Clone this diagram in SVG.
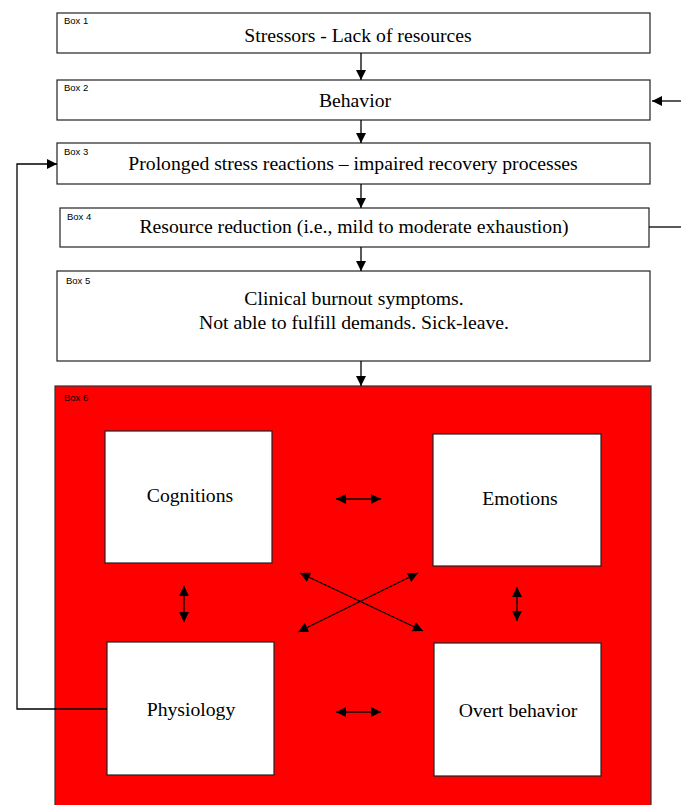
<svg xmlns="http://www.w3.org/2000/svg" width="681" height="805" viewBox="0 0 681 805">
<defs>
<marker id="ah" viewBox="0 0 10 10" refX="10" refY="5" markerWidth="12" markerHeight="10" markerUnits="userSpaceOnUse" orient="auto-start-reverse">
<path d="M0,0 L10,5 L0,10 Z" fill="#000"/>
</marker>
<style>
.box{fill:#fff;stroke:#222;stroke-width:1.2}
.red{fill:#ff0000;stroke:#333;stroke-width:1.2}
.t{font-family:"Liberation Serif","Times New Roman",serif;font-size:19.7px;fill:#000;text-anchor:middle}
.lb{font-family:"Liberation Sans",Arial,sans-serif;font-size:9.5px;fill:#000}
.c{fill:none;stroke:#000;stroke-width:1.3}
</style>
</defs>
<g id="box1"><rect class="box" x="57" y="13" width="593" height="40"/><text class="lb" x="64" y="24">Box 1</text><text class="t" x="358" y="42">Stressors - Lack of resources</text></g>
<g id="box2"><rect class="box" x="57" y="80" width="593" height="40"/><text class="lb" x="64" y="91">Box 2</text><text class="t" x="355" y="107">Behavior</text></g>
<g id="box3"><rect class="box" x="57" y="143" width="593" height="41"/><text class="lb" x="64" y="155">Box 3</text><text class="t" x="353" y="170">Prolonged stress reactions – impaired recovery processes</text></g>
<g id="box4"><rect class="box" x="60" y="208" width="589" height="39"/><text class="lb" x="67" y="220">Box 4</text><text class="t" x="354" y="233">Resource reduction (i.e., mild to moderate exhaustion)</text></g>
<g id="box5"><rect class="box" x="57" y="271" width="593" height="90"/><text class="lb" x="66" y="284">Box 5</text><text class="t" x="354" y="305">Clinical burnout symptoms.</text><text class="t" x="354" y="329">Not able to fulfill demands. Sick-leave.</text></g>
<g id="box6"><rect class="red" x="55" y="386" width="596" height="425"/><text class="lb" x="64" y="401">Box 6</text></g>
<g id="cognitions"><rect class="box" x="105" y="431" width="167" height="132"/><text class="t" x="190" y="502">Cognitions</text></g>
<g id="emotions"><rect class="box" x="433" y="434" width="168" height="132"/><text class="t" x="520" y="505">Emotions</text></g>
<g id="physiology"><rect class="box" x="107" y="642" width="167" height="133"/><text class="t" x="191" y="716">Physiology</text></g>
<g id="overt"><rect class="box" x="434" y="643" width="167" height="133"/><text class="t" x="518" y="717">Overt behavior</text></g>
<g id="connectors">
<line class="c" x1="361" y1="53" x2="361" y2="80" marker-end="url(#ah)"/>
<line class="c" x1="361" y1="120" x2="361" y2="143" marker-end="url(#ah)"/>
<line class="c" x1="361" y1="184" x2="361" y2="208" marker-end="url(#ah)"/>
<line class="c" x1="361" y1="247" x2="361" y2="271" marker-end="url(#ah)"/>
<line class="c" x1="361" y1="361" x2="361" y2="386" marker-end="url(#ah)"/>
<line class="c" x1="681" y1="101" x2="652" y2="101" marker-end="url(#ah)"/>
<line class="c" x1="649" y1="227" x2="681" y2="227"/>
<polyline class="c" points="107,709 17,709 17,164 57,164" marker-end="url(#ah)"/>
<line class="c" x1="336" y1="499" x2="381" y2="499" marker-start="url(#ah)" marker-end="url(#ah)"/>
<line class="c" x1="336" y1="712" x2="381" y2="712" marker-start="url(#ah)" marker-end="url(#ah)"/>
<line class="c" x1="184" y1="586" x2="184" y2="622" marker-start="url(#ah)" marker-end="url(#ah)"/>
<line class="c" x1="517" y1="587" x2="517" y2="621" marker-start="url(#ah)" marker-end="url(#ah)"/>
<line class="c" x1="300" y1="573" x2="423" y2="631" marker-start="url(#ah)" marker-end="url(#ah)"/>
<line class="c" x1="418" y1="573" x2="298" y2="632" marker-start="url(#ah)" marker-end="url(#ah)"/>
</g>
</svg>
